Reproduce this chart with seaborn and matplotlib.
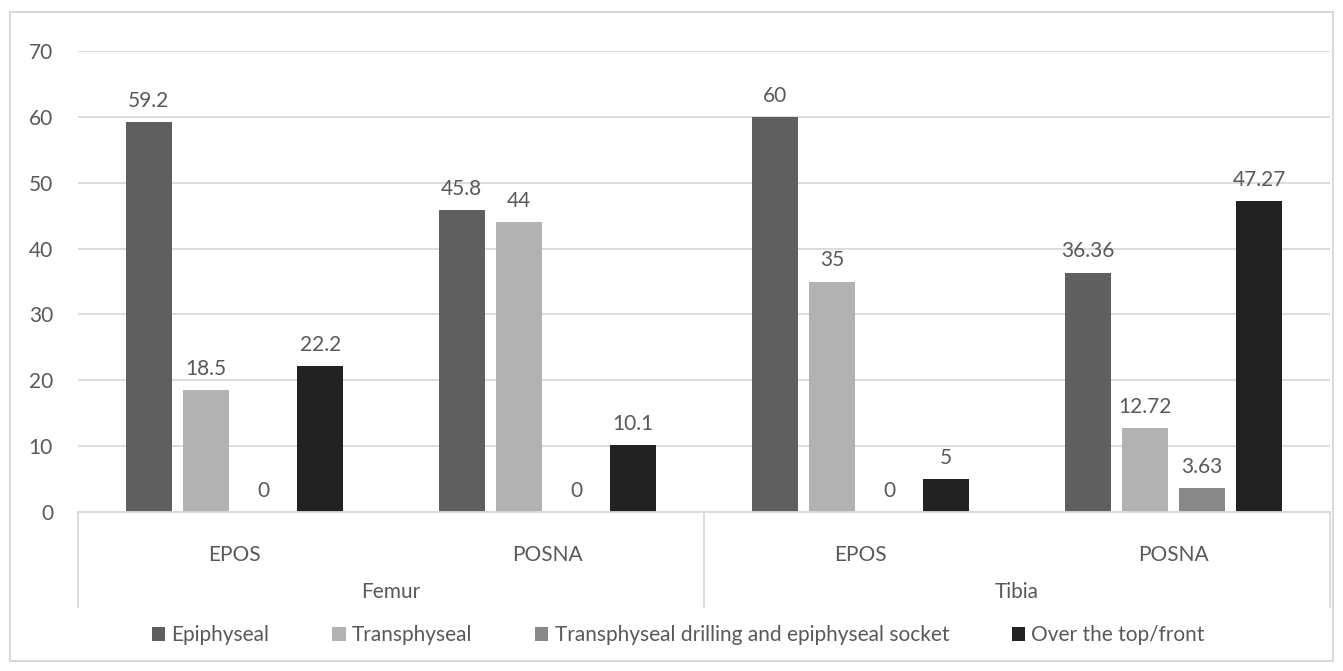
import pandas as pd
import seaborn as sns
import matplotlib.pyplot as plt
from matplotlib.patches import Rectangle

bones = ["Femur", "Femur", "Tibia", "Tibia"]
surveys = ["EPOS", "POSNA", "EPOS", "POSNA"]
techniques = ["Epiphyseal", "Transphyseal",
              "Transphyseal drilling and epiphyseal socket", "Over the top/front"]
epiphyseal = [59.2, 45.8, 60, 36.36]
transphyseal = [18.5, 44, 35, 12.72]
drilling_socket = [0, 0, 0, 3.63]
over_the_top = [22.2, 10.1, 5, 47.27]
colors = ["#5f5f5f", "#b2b2b2", "#888888", "#222222"]
text_color = "#595959"
grid_color = "#d9d9d9"

groups = [f"{b} {s}" for b, s in zip(bones, surveys)]
series = [epiphyseal, transphyseal, drilling_socket, over_the_top]
rows = []
for tech, vals in zip(techniques, series):
    for g, v in zip(groups, vals):
        rows.append({"group": g, "technique": tech, "value": v})
df = pd.DataFrame(rows)

sns.set_style("white")
plt.rcParams["font.family"] = ["Lato", "DejaVu Sans"]
fs = 15

fig = plt.figure(figsize=(13.43, 6.71), dpi=100)
ax = fig.add_axes([78 / 1343, 159 / 671, 1252 / 1343, 461 / 671])

sns.barplot(data=df, x="group", y="value", hue="technique", order=groups,
            hue_order=techniques, palette=colors, width=0.73, gap=0.2,
            saturation=1, ax=ax, linewidth=0)

for cont, vals in zip(ax.containers, series):
    ax.bar_label(cont, labels=[f"{v:g}" for v in vals], padding=8,
                 fontsize=fs, color=text_color)

ax.set_ylim(0, 70)
ax.set_xlim(-0.5, 3.5)
ax.set_yticks(range(0, 71, 10))
ax.yaxis.grid(True, color=grid_color, linewidth=1.3)
ax.set_axisbelow(True)
ax.set_xlabel("")
ax.set_ylabel("")
for side in ["top", "right", "left"]:
    ax.spines[side].set_visible(False)
ax.spines["bottom"].set_color(grid_color)
ax.spines["bottom"].set_linewidth(1.3)
ax.tick_params(axis="y", length=0, pad=18, labelsize=fs, labelcolor=text_color)
ax.tick_params(axis="x", length=0, pad=24, labelsize=fs, labelcolor=text_color)
ax.set_xticks(range(4))
ax.set_xticklabels(surveys)

# second level of the category axis
trans = ax.get_xaxis_transform()
for xb in [-0.5, 1.5, 3.5]:
    ax.plot([xb, xb], [0, -0.206], transform=trans, color=grid_color,
            linewidth=1.3, clip_on=False)
for name, xc in [("Femur", 0.5), ("Tibia", 2.5)]:
    ax.text(xc, -0.174, name, transform=trans, ha="center", va="center",
            fontsize=fs, color=text_color)

handles, labels = ax.get_legend_handles_labels()
ax.get_legend().remove()
fig.legend(handles, labels, loc="center", bbox_to_anchor=(0.505, 36 / 671),
           ncol=4, frameon=False, fontsize=fs, labelcolor=text_color,
           handlelength=0.65, handleheight=0.65, handletextpad=0.3,
           columnspacing=3.0)

fig.patches.append(Rectangle((10 / 1343, 10 / 671), 1323 / 1343, 649 / 671,
                             transform=fig.transFigure, fill=False,
                             edgecolor=grid_color, linewidth=1.5))

fig.savefig("out.png", dpi=100, facecolor="white")
